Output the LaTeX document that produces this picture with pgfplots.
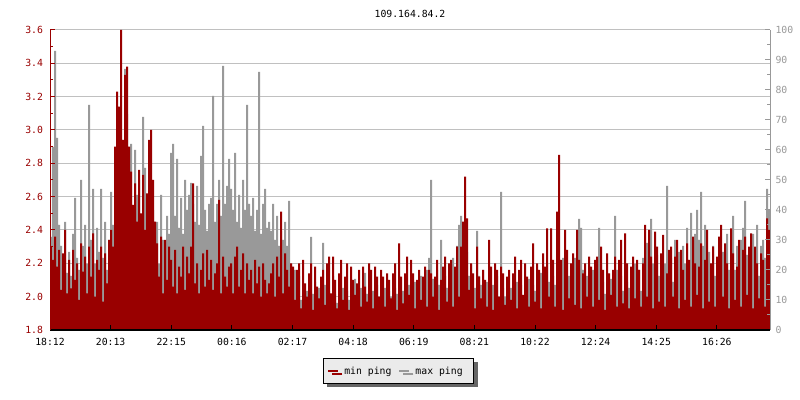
\documentclass[border=0pt]{standalone}
\usepackage{fontspec}
\newfontfamily\mono{DejaVu Sans Mono}
\usepackage{pgfplots}
\pgfplotsset{compat=1.18}
\usepackage{pgfplotstable}
\usetikzlibrary{shadows}
\definecolor{dred}{HTML}{990000}
\definecolor{dgray}{HTML}{999999}
\definecolor{gridc}{HTML}{C0C0C0}
\definecolor{leg}{HTML}{EBEBEB}
\definecolor{shad}{HTML}{666666}
\pgfplotsset{layers/mylayers/.define layer set={axis background,axis grid,main,axis ticks,axis lines,axis tick labels,axis descriptions,axis foreground}{/pgfplots/layers/standard}}
\newcommand{\tf}{\mono\fontsize{9.8bp}{11bp}\selectfont}

% min ping (ms), one value every 4 minutes from 18:12
\pgfplotstableread[row sep=\\,header=false]{
2.30\\2.22\\2.36\\2.18\\2.28\\2.04\\2.26\\2.40\\2.02\\2.22\\
2.05\\2.28\\2.10\\2.20\\1.98\\2.32\\2.15\\2.24\\2.02\\2.30\\
2.12\\2.38\\2.00\\2.22\\2.16\\2.30\\1.97\\2.26\\2.08\\2.34\\
2.40\\2.30\\2.90\\3.23\\3.14\\3.60\\2.94\\3.33\\3.38\\2.90\\
2.75\\2.55\\2.68\\2.45\\2.76\\2.50\\2.73\\2.40\\2.62\\2.94\\
3.00\\2.70\\2.45\\2.32\\2.12\\2.36\\2.02\\2.34\\2.10\\2.30\\
2.22\\2.06\\2.28\\2.02\\2.18\\2.12\\2.30\\2.04\\2.24\\2.14\\
2.30\\2.68\\2.08\\2.20\\2.02\\2.16\\2.26\\2.06\\2.28\\2.10\\
2.22\\2.04\\2.14\\2.20\\2.58\\2.02\\2.24\\2.12\\2.06\\2.18\\
2.20\\2.02\\2.24\\2.30\\2.06\\2.16\\2.26\\2.02\\2.20\\2.10\\
2.16\\2.02\\2.22\\2.08\\2.18\\2.00\\2.20\\2.10\\2.02\\2.08\\
2.14\\2.20\\2.00\\2.24\\2.12\\2.51\\2.02\\2.26\\2.16\\2.06\\
2.20\\2.18\\1.98\\2.16\\2.20\\1.93\\2.22\\2.08\\2.00\\2.14\\
2.20\\1.92\\2.18\\2.06\\1.99\\2.12\\2.16\\1.95\\2.20\\2.24\\
2.02\\2.24\\2.10\\1.93\\2.14\\2.22\\1.98\\2.12\\2.20\\1.92\\
2.18\\2.10\\2.01\\2.08\\2.16\\1.94\\2.18\\2.06\\1.97\\2.20\\
2.16\\1.93\\2.18\\2.12\\2.00\\2.16\\2.12\\1.94\\2.14\\2.10\\
1.99\\2.14\\2.20\\1.92\\2.32\\2.12\\1.96\\2.14\\2.24\\2.01\\
2.22\\2.14\\1.93\\2.10\\2.16\\1.98\\2.12\\2.18\\1.94\\2.16\\
2.14\\2.00\\2.12\\2.22\\1.92\\2.10\\2.18\\2.24\\1.97\\2.20\\
2.22\\1.94\\2.18\\2.30\\2.00\\2.30\\2.45\\2.72\\2.47\\2.04\\
2.20\\2.14\\1.93\\2.30\\2.12\\1.99\\2.16\\2.10\\1.94\\2.34\\
2.18\\1.92\\2.20\\2.16\\2.00\\2.18\\2.14\\1.95\\2.12\\2.16\\
1.98\\2.14\\2.24\\1.93\\2.16\\2.22\\2.01\\2.20\\2.12\\1.94\\
2.18\\2.32\\1.97\\2.20\\2.16\\1.93\\2.26\\2.18\\2.41\\2.00\\
2.41\\2.22\\1.94\\2.51\\2.85\\2.22\\1.92\\2.40\\2.28\\1.99\\
2.20\\2.26\\1.95\\2.40\\2.22\\1.93\\2.14\\2.20\\2.00\\2.24\\
2.18\\1.94\\2.22\\2.24\\1.98\\2.30\\2.16\\1.92\\2.26\\2.14\\
2.01\\2.16\\2.24\\1.94\\2.22\\2.34\\1.96\\2.38\\2.20\\1.93\\
2.18\\2.24\\1.99\\2.22\\2.16\\1.94\\2.20\\2.43\\2.00\\2.40\\
2.24\\1.93\\2.39\\2.30\\1.97\\2.26\\2.37\\1.94\\2.14\\2.28\\
2.30\\2.00\\2.24\\2.34\\1.93\\2.28\\2.16\\1.98\\2.32\\2.22\\
1.94\\2.36\\2.20\\2.01\\2.18\\2.32\\1.93\\2.22\\2.40\\1.97\\
2.20\\2.30\\1.94\\2.24\\2.36\\2.43\\2.00\\2.32\\2.20\\1.93\\
2.41\\2.26\\1.98\\2.18\\2.34\\1.94\\2.28\\2.36\\2.01\\2.30\\
2.38\\1.93\\2.30\\2.20\\1.99\\2.26\\2.22\\1.94\\2.47\\2.40\\
2.40\\
}\minping

% max ping (ms), one value every 4 minutes from 18:12
\pgfplotstableread[row sep=\\,header=false]{
31\\61\\93\\64\\35\\28\\22\\36\\19\\26\\
18\\32\\44\\24\\20\\50\\28\\35\\22\\75\\
30\\47\\22\\34\\26\\47\\24\\36\\20\\30\\
46\\35\\40\\30\\50\\38\\55\\87\\72\\48\\
62\\40\\60\\45\\50\\35\\71\\54\\38\\42\\
30\\40\\28\\36\\22\\45\\30\\24\\38\\32\\
59\\62\\38\\57\\34\\44\\32\\50\\40\\45\\
49\\42\\36\\48\\35\\58\\68\\40\\33\\42\\
44\\78\\36\\42\\50\\38\\88\\42\\48\\57\\
47\\40\\59\\36\\45\\34\\50\\40\\75\\42\\
38\\44\\33\\40\\86\\32\\42\\47\\34\\36\\
33\\42\\30\\38\\28\\33\\30\\36\\28\\43\\
22\\14\\20\\12\\18\\10\\15\\11\\13\\9\\
31\\12\\16\\10\\14\\11\\29\\15\\9\\13\\
10\\18\\12\\9\\16\\11\\14\\8\\13\\10\\
15\\11\\17\\12\\9\\14\\10\\19\\12\\16\\
10\\13\\9\\15\\11\\12\\8\\14\\10\\13\\
11\\9\\14\\12\\16\\10\\13\\17\\11\\15\\
14\\11\\16\\10\\13\\18\\12\\15\\20\\24\\
50\\17\\13\\20\\15\\30\\12\\18\\14\\22\\
16\\24\\20\\28\\35\\38\\32\\30\\26\\18\\
22\\14\\14\\33\\18\\15\\20\\11\\16\\13\\
10\\15\\12\\18\\9\\46\\14\\11\\16\\12\\
14\\10\\13\\16\\11\\15\\9\\14\\12\\17\\
11\\15\\13\\17\\10\\19\\14\\12\\22\\16\\
13\\18\\15\\12\\20\\14\\24\\16\\12\\18\\
18\\15\\24\\22\\37\\34\\20\\14\\18\\12\\
15\\20\\13\\18\\34\\22\\16\\12\\19\\14\\
17\\12\\38\\20\\15\\18\\13\\22\\16\\14\\
19\\14\\22\\16\\20\\13\\24\\18\\29\\21\\
37\\22\\16\\25\\18\\20\\14\\22\\48\\19\\
24\\16\\30\\20\\26\\18\\28\\22\\34\\19\\
39\\26\\32\\40\\30\\46\\28\\35\\22\\26\\
20\\28\\18\\24\\30\\22\\26\\17\\32\\20\\
24\\38\\20\\28\\22\\30\\34\\43\\25\\20\\
26\\32\\22\\35\\18\\28\\30\\24\\47\\40\\
40\\
}\maxping

\begin{document}
\begin{tikzpicture}
% right axis: max ping
\begin{axis}[
  set layers=mylayers,
  scale only axis, width=720bp, height=300bp,
  at={(0,0)}, anchor=south west,
  xmin=0, xmax=1440, ymin=0, ymax=100,
  axis x line=none, axis y line*=right,
  y axis line style={dgray, line width=1bp, -},
  ytick={0,10,20,30,40,50,60,70,80,90,100},
  yticklabels={0,10,20,30,40,50,60,70,80,90,100},
  minor ytick={5,15,25,35,45,55,65,75,85,95},
  tick align=inside, major tick length=5bp, minor tick length=3bp,
  ytick style={dgray, line width=1bp},
  yticklabel style={dgray, font=\tf, xshift=2bp},
]
\addplot[const plot, fill=dgray, draw=none] table[x expr=\coordindex*4, y index=0] {\maxping} \closedcycle;
\end{axis}
% left axis: min ping
\begin{axis}[
  set layers=mylayers,
  scale only axis, width=720bp, height=300bp,
  at={(0,0)}, anchor=south west,
  xmin=0, xmax=1440, ymin=1.8, ymax=3.6,
  axis x line*=bottom, axis y line*=left,
  x axis line style={black, line width=1.5bp, -},
  y axis line style={dred, line width=1bp, -},
  ytick={1.8,2.0,2.2,2.4,2.6,2.8,3.0,3.2,3.4,3.6},
  yticklabels={1.8,2.0,2.2,2.4,2.6,2.8,3.0,3.2,3.4,3.6},
  minor ytick={1.9,2.1,2.3,2.5,2.7,2.9,3.1,3.3,3.5},
  xtick={0,121.25,242.5,363.75,485,606.25,727.5,848.75,970,1091.25,1212.5,1333.75},
  xticklabels={18:12,20:13,22:15,00:16,02:17,04:18,06:19,08:21,10:22,12:24,14:25,16:26},
  tick align=inside, major tick length=5bp, minor tick length=3bp,
  ytick style={dred, line width=1bp},
  xtick style={black, line width=1bp},
  yticklabel style={dred, font=\tf, xshift=-3.5bp},
  xticklabel style={black, font=\tf, yshift=-5bp},
  ymajorgrids, major grid style={gridc, line width=1bp},
  title={109.164.84.2},
  title style={font=\tf, at={(0.5,1)}, anchor=south, yshift=3bp},
  legend columns=2,
  legend image code/.code={\draw[#1] (0bp,0bp) -- (10bp,0bp);},
  legend style={at={(0.484,-0.137)}, anchor=center, draw=black, line width=1bp,
    fill=leg, font=\tf, inner xsep=4bp, inner ysep=6bp,
    drop shadow={shadow xshift=4bp, shadow yshift=-3bp, fill=shad, opacity=1},
    /tikz/every odd column/.append style={column sep=3bp},
    /tikz/every even column/.append style={column sep=5bp}},
]
\addplot[const plot, fill=dred, draw=none, forget plot] table[x expr=\coordindex*4, y index=0] {\minping} \closedcycle;
\addlegendimage{dred, line width=2bp}
\addlegendentry{min ping}
\addlegendimage{dgray, line width=2bp}
\addlegendentry{max ping\hspace*{5bp}}
\end{axis}
\path (-50bp,-70bp) rectangle (750bp,330bp);
\end{tikzpicture}
\end{document}
